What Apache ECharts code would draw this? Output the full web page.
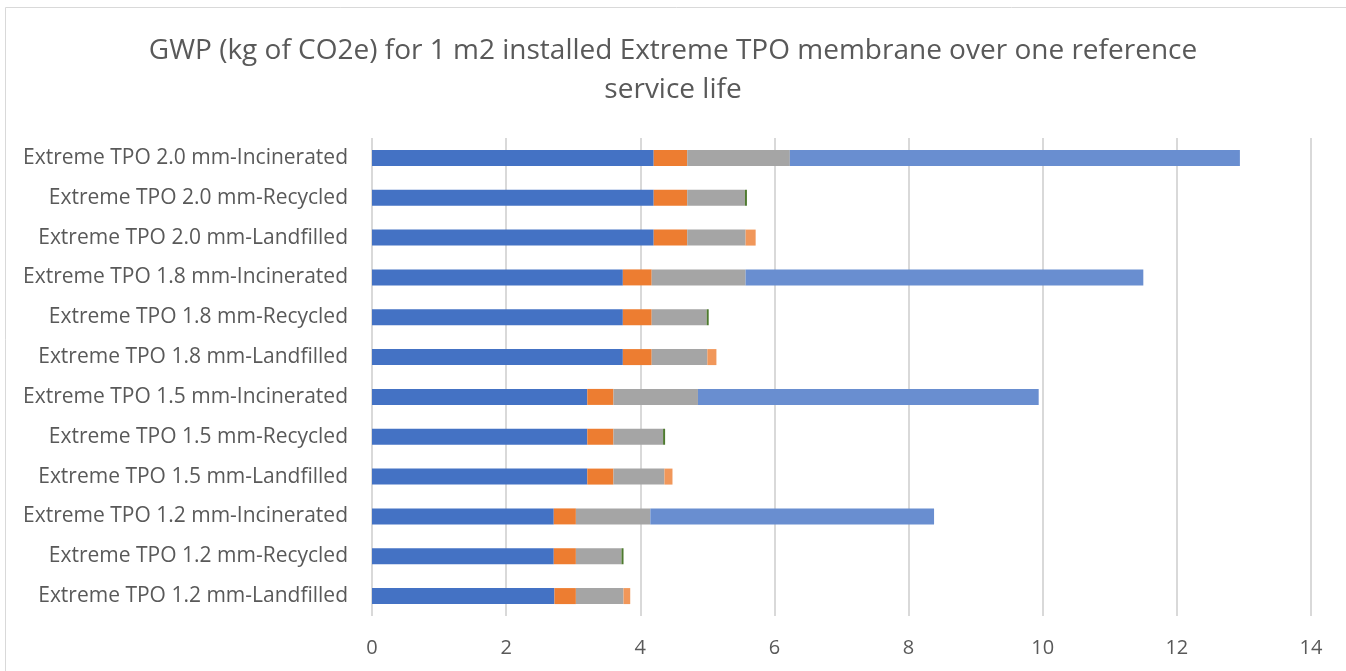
<!DOCTYPE html>
<title>gwp</title>
<style>
body {
    margin: 0;
    background: #fff;
}
#echart {
    height: 671px;
    width: 1346px;
}
</style>
<div id='echart'></div>
<script src='https://cdn.jsdelivr.net/npm/echarts@6/dist/echarts.min.js'></script>
<script>
let TITLE = 'GWP (kg of CO2e) for 1 m2 installed Extreme TPO membrane over one reference\nservice life'
let FONT = 'Open Sans'
// top to bottom, as in the picture
let categories = [
    'Extreme TPO 2.0 mm-Incinerated', 'Extreme TPO 2.0 mm-Recycled', 'Extreme TPO 2.0 mm-Landfilled',
    'Extreme TPO 1.8 mm-Incinerated', 'Extreme TPO 1.8 mm-Recycled', 'Extreme TPO 1.8 mm-Landfilled',
    'Extreme TPO 1.5 mm-Incinerated', 'Extreme TPO 1.5 mm-Recycled', 'Extreme TPO 1.5 mm-Landfilled',
    'Extreme TPO 1.2 mm-Incinerated', 'Extreme TPO 1.2 mm-Recycled', 'Extreme TPO 1.2 mm-Landfilled',
]
let production = [4.20, 4.20, 4.20, 3.74, 3.74, 3.74, 3.21, 3.21, 3.21, 2.71, 2.71, 2.72]
let transport = [0.50, 0.50, 0.50, 0.43, 0.43, 0.43, 0.39, 0.39, 0.39, 0.33, 0.33, 0.32]
let installation = [1.53, 0.86, 0.87, 1.40, 0.82, 0.83, 1.26, 0.74, 0.76, 1.11, 0.68, 0.71]
let incineration = [6.71, 0, 0, 5.93, 0, 0, 5.08, 0, 0, 4.23, 0, 0]
let recycling = [0, 0.03, 0, 0, 0.03, 0, 0, 0.03, 0, 0, 0.03, 0]
let landfill = [0, 0, 0.15, 0, 0, 0.135, 0, 0, 0.12, 0, 0, 0.10]

let echart = echarts.init(document.querySelector('#echart'))
let bar = {type: 'bar', stack: 'gwp', barWidth: 16, emphasis: {disabled: true}}
let option = {
    animation: false,
    title: {
        text: TITLE, left: 'center', top: 27,
        textStyle: {fontFamily: FONT, fontSize: 28, fontWeight: 'normal', color: '#595959', lineHeight: 39},
    },
    grid: {left: 372, right: 35, top: 138, bottom: 55},
    xAxis: {
        type: 'value', min: 0, max: 14, interval: 2,
        axisLine: {show: false}, axisTick: {show: false},
        axisLabel: {fontFamily: FONT, fontSize: 20, color: '#595959', margin: 16},
        splitLine: {lineStyle: {color: '#d9d9d9', width: 2}},
    },
    yAxis: {
        type: 'category', data: categories, inverse: true,
        axisLine: {show: false}, axisTick: {show: false},
        axisLabel: {fontFamily: FONT, fontSize: 21, color: '#595959', margin: 24, interval: 0},
    },
    series: [
        {...bar, name: 'Production', data: production, itemStyle: {color: '#4472C4'}},
        {...bar, name: 'Transport', data: transport, itemStyle: {color: '#ED7D31'}},
        {...bar, name: 'Installation', data: installation, itemStyle: {color: '#A5A5A5'}},
        {...bar, name: 'Incineration', data: incineration, itemStyle: {color: '#698ED0'}},
        {...bar, name: 'Recycling', data: recycling, itemStyle: {color: '#4E7A2F'}},
        {...bar, name: 'Landfill', data: landfill, itemStyle: {color: '#F1975A'}},
    ],
    graphic: [{
        type: 'rect', shape: {x: 5.5, y: 7.5, width: 1400, height: 700},
        style: {fill: 'none', stroke: '#d9d9d9', lineWidth: 1},
    }],
}
echart.setOption(option)
</script>
